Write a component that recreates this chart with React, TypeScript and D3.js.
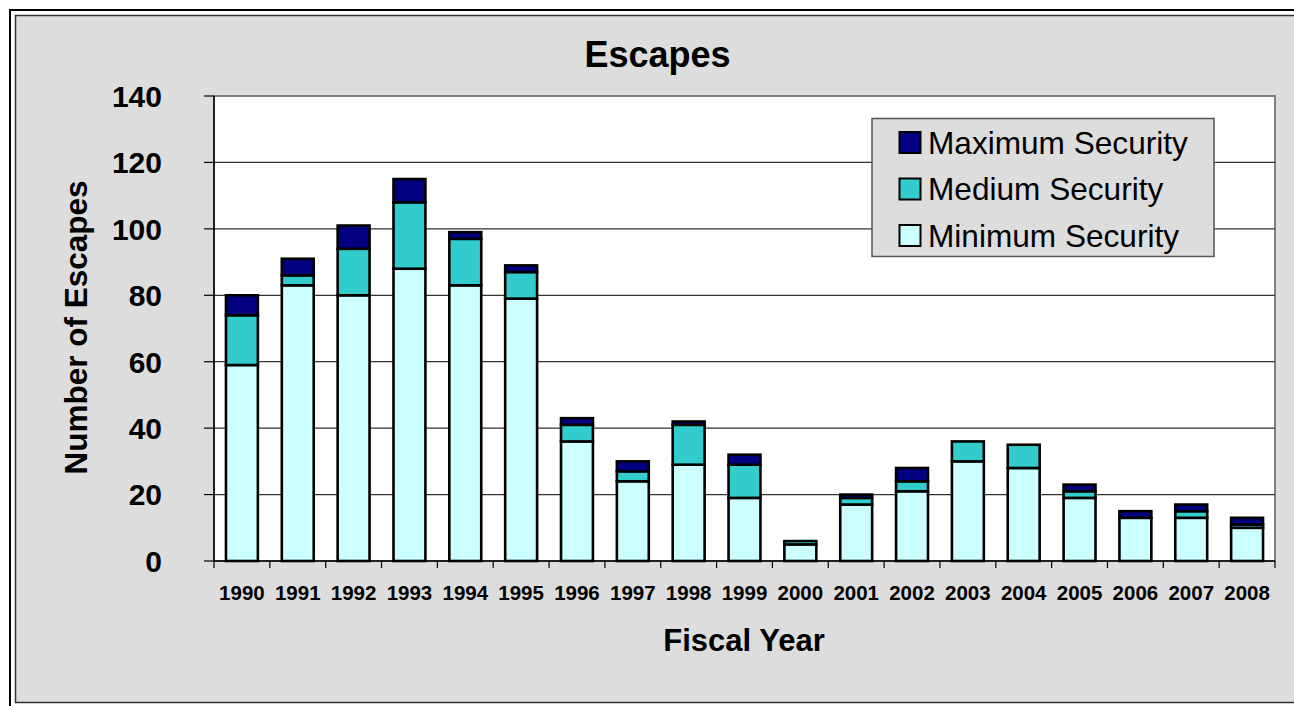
import React from "react";
import * as d3 from "d3";

const years = ["1990","1991","1992","1993","1994","1995","1996","1997","1998","1999","2000","2001","2002","2003","2004","2005","2006","2007","2008"];
const minimumSecurity = [59, 83, 80, 88, 83, 79, 36, 24, 29, 19, 5, 17, 21, 30, 28, 19, 13, 13, 10];
const mediumSecurity = [15, 3, 14, 20, 14, 8, 5, 3, 12, 10, 1, 2, 3, 6, 7, 2, 0, 2, 1];
const maximumSecurity = [6, 5, 7, 7, 2, 2, 2, 3, 1, 3, 0, 1, 4, 0, 0, 2, 2, 2, 2];
const yTicks = [0, 20, 40, 60, 80, 100, 120, 140];
const seriesKeys = ["min", "med", "max"];
const seriesNames: Record<string, string> = { max: "Maximum Security", med: "Medium Security", min: "Minimum Security" };
const seriesColors: Record<string, string> = { min: "#CCFFFF", med: "#33CCCC", max: "#000080" };
const legendOrder = ["max", "med", "min"];

const W = 1294;
const H = 706;
const FONT = "'Liberation Sans', Arial, Helvetica, sans-serif";

export default function App() {
  const left = 214, right = 1275, top = 96, bottom = 561;
  const x = d3.scaleBand<string>().domain(years).range([left, right]).paddingInner(0.4286).paddingOuter(0.2143);
  const y = d3.scaleLinear().domain([0, 140]).range([bottom, top]);
  const rows = years.map((yr, i) => ({ year: yr, min: minimumSecurity[i], med: mediumSecurity[i], max: maximumSecurity[i] }));
  const stacked = d3.stack<any>().keys(seriesKeys)(rows);
  const step = x.step();

  return (
    <svg width={W} height={H} style={{ position: "absolute", left: 0, top: 0, display: "block" }} fontFamily={FONT}>
      <rect x={0} y={0} width={W} height={H} fill="#ffffff" />
      <rect x={10} y={10} width={W + 20} height={H + 20} fill="none" stroke="#000" strokeWidth={2} />
      <rect x={15.5} y={15.5} width={W + 20} height={687} fill="#DDDDDD" stroke="#333" strokeWidth={1.5} />
      <text x={657.5} y={67} textAnchor="middle" fontSize={36} fontWeight="bold" fill="#000">Escapes</text>

      {/* plot area */}
      <rect x={left} y={top} width={right - left} height={bottom - top} fill="#ffffff" stroke="#808080" strokeWidth={2} />
      {yTicks.filter(t => t > 0 && t < 140).map(t => (
        <line key={"g" + t} x1={left} x2={right} y1={y(t)} y2={y(t)} stroke="#333" strokeWidth={1.2} />
      ))}

      {/* bars */}
      {stacked.map(layer => (
        <g key={layer.key}>
          {layer.map((d, i) => {
            const h = y(d[0]) - y(d[1]);
            if (h <= 0) return null;
            return (
              <rect key={i} x={x(years[i])!} y={y(d[1])} width={x.bandwidth()} height={h}
                fill={seriesColors[layer.key]} stroke="#000" strokeWidth={2.6} />
            );
          })}
        </g>
      ))}

      {/* y axis */}
      <line x1={left} x2={left} y1={top} y2={bottom} stroke="#000" strokeWidth={1.5} />
      {yTicks.map(t => (
        <g key={"t" + t}>
          <line x1={left - 10} x2={left} y1={y(t)} y2={y(t)} stroke="#000" strokeWidth={1.2} />
          <text x={162} y={y(t)} dy="0.36em" textAnchor="end" fontSize={30} fontWeight="bold">{t}</text>
        </g>
      ))}

      {/* x axis */}
      <line x1={left} x2={right} y1={bottom} y2={bottom} stroke="#000" strokeWidth={1.5} />
      {d3.range(years.length + 1).map(i => (
        <line key={"xt" + i} x1={left + i * step} x2={left + i * step} y1={bottom} y2={bottom + 7} stroke="#000" strokeWidth={1.2} />
      ))}
      {years.map(yr => (
        <text key={yr} x={x(yr)! + x.bandwidth() / 2} y={600} textAnchor="middle" fontSize={20.5} fontWeight="bold">{yr}</text>
      ))}

      <text x={744} y={651} textAnchor="middle" fontSize={31} fontWeight="bold">Fiscal Year</text>
      <text transform="translate(87,327.5) rotate(-90)" textAnchor="middle" fontSize={31.5} fontWeight="bold">Number of Escapes</text>

      {/* legend */}
      <rect x={872} y={118.5} width={342} height={138} fill="#DDDDDD" stroke="#555" strokeWidth={1.5} />
      {legendOrder.map((k, i) => (
        <g key={k} transform={`translate(0, ${i * 46.5})`}>
          <rect x={899.5} y={132} width={21} height={21} fill={seriesColors[k]} stroke="#000" strokeWidth={2} />
          <text x={928} y={153.5} fontSize={31.6} fill="#000">{seriesNames[k]}</text>
        </g>
      ))}
    </svg>
  );
}
